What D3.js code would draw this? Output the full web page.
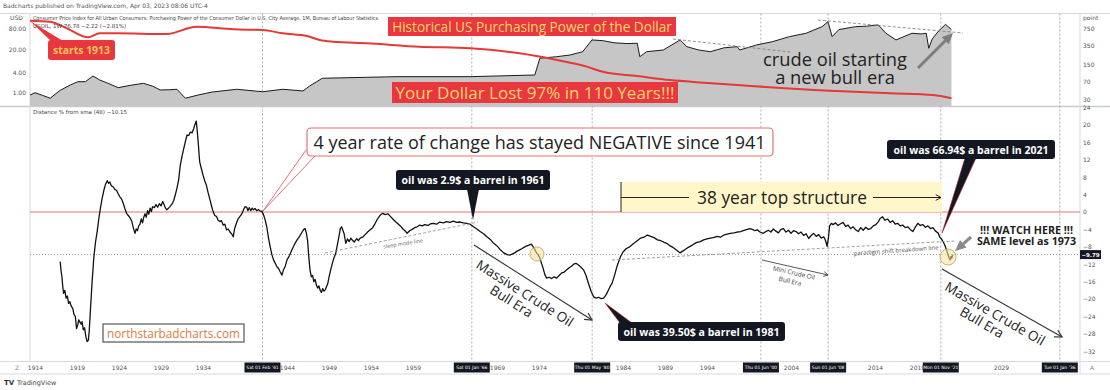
<!DOCTYPE html>
<html><head><meta charset="utf-8">
<script src="https://cdn.jsdelivr.net/npm/d3@7"></script>
<style>
html,body{margin:0;padding:0;background:#fff;}
svg{display:block;}
text{font-family:"Open Sans",sans-serif;}
.ax text{font-family:"DejaVu Sans",sans-serif;font-size:6px;fill:#555;}
</style></head><body><svg id="c" width="1110" height="390"></svg>
<script>
// ---------------- DATA ----------------
const oilYears = [1913.4,1914.0,1914.9,1915.8,1917.0,1918.2,1919.1,1920.0,1920.9,1921.7,1922.8,1923.9,1925.4,1926.9,1928.0,1928.9,1930.0,1930.9,1931.9,1933.5,1935.1,1938.0,1941.1,1943.5,1945.9,1946.7,1948.2,1953.5,1957.1,1965.8,1973.5,1974.1,1976.1,1977.7,1979.2,1980.3,1981.6,1983.0,1984.5,1985.7,1986.0,1986.8,1988.8,1990.8,1991.6,1993.0,1994.4,1996.0,1997.6,1997.9,1999.9,2001.8,2003.8,2005.8,2007.7,2008.4,2008.9,2009.7,2011.7,2013.0,2014.4,2015.3,2016.5,2018.4,2019.5,2020.1,2020.4,2020.8,2021.6,2022.4,2023.1];
const oilValues = [0.87,1.02,0.85,0.70,1.2,1.73,2.17,2.17,3.2,2.44,1.9,1.44,1.7,1.94,1.6,1.23,1.25,1.29,0.70,0.88,1.07,1.29,1.09,1.29,1.15,1.62,2.74,2.93,3.06,3.06,3.43,10.8,12.0,13.5,16.9,37.8,36.0,31,29.5,30.1,12.0,16.9,19.0,37.8,23.9,19,16.9,22,23.9,19.0,26.8,33.6,47.4,59.8,94,132,47.4,77,94,97,105.6,59.8,37.8,59.8,57,59.8,21.4,40,71,110,76.8];

const ppYears = [1913.4,1915.8,1917.8,1920.3,1921.7,1923.7,1929.7,1933.2,1937.6,1941.1,1943.5,1946.4,1947.9,1949.5,1953.5,1959.8,1965.8,1971.7,1975.7,1979.7,1981.6,1985.7,1989.6,1993.6,1997.6,2008.6,2015.8,2020.9,2023.1];
const ppValues = [1091,1042,773,514,617,617,598,832,739,716,617,545,455,421,392,336,313,249,190,136,108,89,74,65.8,59,45.7,40.6,37.6,32.4];

const oscYears = [1917.0,1917.1,1917.2,1917.3,1917.4,1917.55,1917.7,1917.85,1918.0,1918.15,1918.3,1918.5,1918.65,1918.8,1918.95,1919.1,1919.2,1919.35,1919.5,1919.6,1919.75,1919.9,1920.05,1920.2,1920.35,1920.45,1920.6,1920.8,1921.0,1921.2,1921.4,1921.6,1921.8,1922.0,1922.2,1922.4,1922.6,1922.75,1922.9,1923.1,1923.3,1923.5,1923.7,1923.9,1924.1,1924.3,1924.5,1924.7,1924.9,1925.1,1925.3,1925.5,1925.7,1925.9,1926.05,1926.2,1926.35,1926.5,1926.65,1926.8,1926.95,1927.1,1927.25,1927.4,1927.55,1927.7,1927.85,1928.0,1928.2,1928.4,1928.6,1928.8,1929.0,1929.2,1929.35,1929.5,1929.7,1929.9,1930.1,1930.3,1930.5,1930.7,1930.9,1931.1,1931.3,1931.5,1931.7,1931.9,1932.1,1932.3,1932.5,1932.7,1932.9,1933.05,1933.2,1933.3,1933.45,1933.6,1933.8,1934.0,1934.2,1934.4,1934.6,1934.8,1935.0,1935.2,1935.4,1935.6,1935.8,1936.0,1936.2,1936.4,1936.6,1936.8,1937.0,1937.2,1937.4,1937.6,1937.75,1937.9,1938.05,1938.2,1938.4,1938.6,1938.8,1939.0,1939.2,1939.35,1939.5,1939.7,1939.85,1940.0,1940.2,1940.4,1940.6,1940.8,1941.0,1941.2,1941.4,1941.6,1941.8,1942.0,1942.2,1942.4,1942.6,1942.8,1943.0,1943.2,1943.4,1943.6,1943.8,1944.0,1944.3,1944.6,1944.9,1945.2,1945.5,1945.8,1946.0,1946.15,1946.3,1946.45,1946.6,1946.75,1946.9,1947.05,1947.2,1947.35,1947.5,1947.65,1947.8,1947.95,1948.1,1948.25,1948.4,1948.55,1948.7,1948.85,1949.0,1949.2,1949.4,1949.6,1949.8,1950.0,1950.2,1950.35,1950.5,1950.65,1950.8,1951.0,1951.2,1951.4,1951.6,1951.8,1952.0,1952.3,1952.5,1952.7,1953.0,1953.3,1953.6,1953.9,1954.2,1954.5,1954.8,1955.1,1955.4,1955.7,1956.0,1956.3,1956.6,1956.9,1957.2,1957.5,1957.8,1958.1,1958.3,1958.6,1958.9,1959.2,1959.5,1959.8,1960.1,1960.4,1960.8,1961.1,1961.4,1961.8,1962.2,1962.6,1963.0,1963.4,1963.8,1964.2,1964.6,1965.0,1965.4,1965.8,1966.2,1966.6,1967.0,1967.4,1967.8,1968.2,1968.6,1969.0,1969.4,1969.8,1970.2,1970.5,1970.8,1971.1,1971.4,1971.7,1972.0,1972.4,1972.8,1973.1,1973.3,1973.5,1973.7,1973.9,1974.1,1974.3,1974.5,1974.7,1974.9,1975.2,1975.5,1975.8,1976.1,1976.4,1976.7,1977.0,1977.3,1977.6,1977.9,1978.2,1978.4,1978.7,1979.0,1979.3,1979.6,1979.9,1980.2,1980.5,1980.8,1981.1,1981.4,1981.7,1982.0,1982.3,1982.5,1982.7,1983.0,1983.3,1983.7,1984.0,1984.4,1984.8,1985.3,1985.7,1986.1,1986.5,1986.9,1987.3,1987.7,1988.1,1988.5,1988.9,1989.2,1989.6,1990.0,1990.4,1990.8,1991.1,1991.4,1991.7,1992.0,1992.4,1992.8,1993.2,1993.6,1994.0,1994.4,1994.8,1995.2,1995.6,1996.0,1996.4,1996.8,1997.2,1997.6,1998.0,1998.4,1998.8,1999.1,1999.4,1999.7,2000.0,2000.3,2000.7,2001.0,2001.3,2001.6,2001.9,2002.2,2002.5,2002.8,2003.1,2003.4,2003.7,2004.0,2004.3,2004.6,2004.9,2005.2,2005.5,2005.8,2006.1,2006.4,2006.7,2007.0,2007.3,2007.6,2007.9,2008.1,2008.3,2008.45,2008.6,2008.8,2009.0,2009.3,2009.6,2009.9,2010.2,2010.5,2010.8,2011.1,2011.4,2011.7,2012.0,2012.3,2012.6,2012.9,2013.2,2013.5,2013.8,2014.1,2014.4,2014.6,2014.9,2015.2,2015.5,2015.8,2016.1,2016.4,2016.7,2017.0,2017.3,2017.6,2017.9,2018.2,2018.5,2018.8,2019.1,2019.4,2019.7,2020.0,2020.3,2020.6,2020.9,2021.2,2021.5,2021.7,2021.9,2022.1,2022.3,2022.5,2022.65,2022.8,2022.95,2023.05,2023.15,2023.25];
const oscValues = [-11.4,-13.5,-14.8,-17.0,-18.7,-18.0,-19.8,-19.3,-21.0,-20.6,-21.6,-22.2,-23.6,-24.0,-26.8,-25.9,-24.8,-25.3,-25.8,-25.2,-27.1,-26.6,-28.6,-29.8,-29.5,-27.5,-22.5,-16.0,-10.5,-7.0,-4.5,-1.5,1.0,3.2,5.0,6.4,7.2,6.6,6.9,6.0,5.8,5.2,5.0,4.2,3.5,3.0,2.0,0.8,-0.3,-0.8,-1.3,-2.0,-3.6,-4.9,-3.9,-4.3,-3.2,-2.8,-1.6,-2.5,-1.2,-0.4,-1.2,0.3,-0.5,0.9,0.1,1.2,1.0,1.7,1.1,1.9,1.4,2.4,1.8,1.0,0.5,0.9,1.3,1.8,2.6,3.9,5.5,7.4,10.8,12.8,14.5,16.2,17.7,17.6,18.4,18.2,19.2,20.2,20.9,19.0,15.5,11.6,10.0,8.5,7.2,6.2,4.5,3.0,1.5,0.1,-0.8,-1.0,-1.9,-2.2,-2.0,-3.0,-2.8,-4.1,-3.9,-4.6,-5.0,-5.7,-4.0,-3.0,-2.2,-1.5,-1.0,-0.5,0.4,1.2,1.1,0.3,1.0,0.3,0.9,0.5,0.8,0.3,0.6,0.2,0.2,-0.6,-1.8,-3.5,-6.0,-8.0,-9.8,-11.0,-11.8,-12.6,-13.0,-13.8,-14.5,-13.2,-12.4,-11.0,-10.0,-8.6,-7.4,-6.4,-5.6,-4.6,-4.0,-3.8,-4.8,-6.5,-10.5,-13.5,-14.9,-14.6,-16.0,-15.5,-16.8,-17.5,-17.0,-18.0,-18.5,-17.6,-18.2,-17.9,-17.2,-16.5,-15.0,-13.3,-11.8,-10.5,-9.5,-7.5,-5.5,-3.8,-3.4,-4.2,-5.0,-7.2,-6.2,-6.8,-6.0,-6.5,-6.9,-6.1,-6.6,-6.0,-5.8,-5.2,-4.6,-4.1,-3.6,-2.6,-1.5,-0.7,-0.3,-0.6,-0.4,-1.0,-1.6,-2.2,-2.7,-3.2,-3.9,-4.4,-4.9,-4.3,-4.0,-3.6,-3.4,-3.0,-3.2,-2.9,-3.1,-2.7,-2.6,-2.8,-2.3,-2.5,-2.2,-2.4,-2.1,-2.4,-2.3,-2.5,-2.6,-2.8,-3.4,-3.9,-4.5,-5.0,-5.7,-6.3,-7.2,-7.8,-8.7,-9.4,-9.8,-9.9,-9.7,-9.4,-9.0,-8.7,-8.4,-7.9,-7.6,-7.4,-8.0,-8.6,-9.4,-9.8,-10.6,-11.8,-13.0,-14.4,-15.2,-15.0,-15.3,-14.9,-15.2,-14.6,-14.0,-13.8,-13.3,-12.8,-12.4,-11.9,-11.8,-12.2,-12.7,-13.3,-14.6,-16.5,-18.2,-19.5,-19.8,-19.6,-19.9,-19.8,-19.0,-17.8,-17.0,-16.4,-14.5,-12.4,-10.3,-9.2,-8.4,-8.0,-7.2,-6.6,-6.0,-5.8,-5.3,-5.6,-5.9,-6.4,-6.6,-7.0,-7.2,-7.8,-8.2,-8.8,-9.4,-9.0,-8.6,-8.2,-7.9,-7.4,-7.0,-6.8,-6.4,-6.2,-6.0,-5.9,-5.6,-5.8,-5.3,-5.1,-4.9,-4.8,-4.6,-4.5,-4.2,-4.0,-3.8,-4.0,-4.3,-4.1,-4.6,-4.9,-4.5,-4.2,-4.6,-3.9,-4.4,-4.8,-4.0,-3.8,-4.6,-4.2,-4.9,-4.3,-4.5,-5.0,-4.6,-5.4,-5.0,-6.1,-5.4,-4.9,-5.6,-5.2,-6.0,-5.7,-6.5,-7.9,-6.0,-3.2,-2.6,-2.9,-2.5,-3.1,-2.7,-2.4,-3.3,-3.0,-3.8,-3.4,-4.1,-4.5,-3.6,-4.2,-3.5,-4.0,-3.8,-3.2,-2.9,-2.2,-1.5,-1.1,-1.9,-1.6,-2.4,-2.0,-2.8,-2.6,-3.2,-3.0,-3.6,-3.4,-4.0,-4.5,-3.5,-2.6,-3.1,-2.9,-3.5,-3.2,-3.8,-3.6,-4.4,-4.8,-5.7,-6.2,-6.8,-7.6,-8.6,-9.5,-10.4,-11.0,-10.2,-10.6,-9.79];

// year ticks that stay visible (the others sit under the date flags)
const yearTicks = [1914,1919,1924,1929,1934,1944,1949,1954,1959,1969,1974,1984,1989,1994,2004,2014,2019,2029];
const markerYears = [1941.08,1966.0,1980.33,2000.42,2008.42,2021.83,2036.0];
const markerLabels = ["Sat 01 Feb '41","Sat 01 Jan '66","Thu 01 May '80","Thu 01 Jun '00","Sun 01 Jun '08","Mon 01 Nov '21","Tue 01 Jan '36"];
const usdTicks = [1,4,20,80];
const pointTicks = [30,70,150,350,750];
const oscTicks = [24,20,16,12,8,4,0,-4,-8,-12,-16,-20,-24,-28,-32];
const lastOsc = -9.79;

// ---------------- LAYOUT ----------------
const svg = d3.select("#c");
const L = 30, R = 1080, T1 = 13.5, B1 = 106.5, T2 = 107, B2 = 361.5, B3 = 374;
const x = d3.scaleLinear().domain([1914, 2036]).range([35, 1059.8]);
const yUsd = d3.scaleLog().domain([1, 80]).range([93, 29]);
const yPt = d3.scaleLog().domain([30, 750]).range([100, 29]);
const yOsc = d3.scaleLinear().domain([-32, 24]).range([351.2, 107.6]);

svg.append("rect").attr("width",1110).attr("height",390).attr("fill","#fff");
const defs = svg.append("defs");
defs.append("clipPath").attr("id","cp1").append("rect").attr("x",L).attr("y",T1).attr("width",R-L).attr("height",B1-T1);
defs.append("clipPath").attr("id","cp2").append("rect").attr("x",L).attr("y",T2).attr("width",R-L).attr("height",B2-T2);

const fr = svg.append("g").attr("stroke","#d6d9e0").attr("stroke-width",1).attr("fill","none");
fr.append("line").attr("x1",0).attr("x2",1110).attr("y1",T1).attr("y2",T1);
fr.append("line").attr("x1",0).attr("x2",1110).attr("y1",B1).attr("y2",B1).attr("stroke","#c8cbd2").attr("stroke-width",1.5);
fr.append("line").attr("x1",0).attr("x2",1110).attr("y1",B2).attr("y2",B2);
fr.append("line").attr("x1",0).attr("x2",1110).attr("y1",B3).attr("y2",B3);
fr.append("line").attr("x1",L).attr("x2",L).attr("y1",T1).attr("y2",B2);
fr.append("line").attr("x1",R).attr("x2",R).attr("y1",T1).attr("y2",B3);

svg.append("text").attr("x",3).attr("y",8).attr("font-size",6).attr("fill","#555")
  .style("font-family","DejaVu Sans").text("Badcharts published on TradingView.com, Apr 03, 2023 08:06 UTC-4");

svg.append("g").selectAll("line").data(markerYears).join("line")
  .attr("x1",d=>x(d)).attr("x2",d=>x(d)).attr("y1",T1).attr("y2",B2)
  .attr("stroke","#9a9a9a").attr("stroke-width",0.8).attr("stroke-dasharray","2,2");

// ---------------- TOP PANE ----------------
const g1 = svg.append("g").attr("clip-path","url(#cp1)");
const oil = oilYears.map((d,i)=>[d,oilValues[i]]);
g1.append("path").datum(oil)
  .attr("d", d3.area().x(d=>x(d[0])).y0(B1).y1(d=>yUsd(d[1])))
  .attr("fill","#c6c6c6");
g1.append("path").datum(oil)
  .attr("d", d3.line().x(d=>x(d[0])).y(d=>yUsd(d[1])))
  .attr("fill","none").attr("stroke","#1a1a1a").attr("stroke-width",1);
const pp = ppYears.map((d,i)=>[d,ppValues[i]]);
g1.append("path").datum(pp)
  .attr("d", d3.line().curve(d3.curveMonotoneX).x(d=>x(d[0])).y(d=>yPt(d[1])))
  .attr("fill","none").attr("stroke","#e53935").attr("stroke-width",2);
g1.append("line").attr("x1",673).attr("y1",39).attr("x2",790).attr("y2",52)
  .attr("stroke","#777").attr("stroke-width",0.8).attr("stroke-dasharray","3,2");
g1.append("line").attr("x1",818).attr("y1",20).attr("x2",963).attr("y2",33)
  .attr("stroke","#777").attr("stroke-width",0.8).attr("stroke-dasharray","3,2");

svg.append("text").attr("x",33).attr("y",19.5).attr("font-size",5.5).attr("fill","#444")
  .style("font-family","DejaVu Sans")
  .text("Consumer Price Index for All Urban Consumers: Purchasing Power of the Consumer Dollar in U.S. City Average, 1M, Bureau of Labour Statistics")
  .attr("textLength",345).attr("lengthAdjust","spacingAndGlyphs");
svg.append("text").attr("x",33).attr("y",27.5).attr("font-size",5.5).attr("fill","#444")
  .style("font-family","DejaVu Sans").text("USOIL, 1W  76.78  −2.22 (−2.81%)");

const axUsd = svg.append("g").attr("class","ax").attr("transform",`translate(${L-2},0)`)
  .call(d3.axisLeft(yUsd).tickValues(usdTicks).tickFormat(d3.format(".2f")).tickSize(0).tickPadding(2));
axUsd.select(".domain").remove();
svg.append("text").attr("x",10).attr("y",20).attr("font-size",6).attr("fill","#555").style("font-family","DejaVu Sans").text("USD");
const axPt = svg.append("g").attr("class","ax").attr("transform",`translate(${R+1},0)`)
  .call(d3.axisRight(yPt).tickValues(pointTicks).tickFormat(d3.format("d")).tickSize(0).tickPadding(2));
axPt.select(".domain").remove();
svg.append("text").attr("x",1083).attr("y",20).attr("font-size",6).attr("fill","#555").style("font-family","DejaVu Sans").text("point");

// ---------------- LOWER PANE ----------------
const g2 = svg.append("g").attr("clip-path","url(#cp2)");
g2.append("line").attr("x1",L).attr("x2",R).attr("y1",yOsc(0)).attr("y2",yOsc(0))
  .attr("stroke","#e57373").attr("stroke-width",1);
g2.append("line").attr("x1",L).attr("x2",R).attr("y1",yOsc(lastOsc)).attr("y2",yOsc(lastOsc))
  .attr("stroke","#888").attr("stroke-width",0.8).attr("stroke-dasharray","1,2");
g2.append("rect").attr("x",621).attr("y",182).attr("width",321).attr("height",yOsc(0)-182).attr("fill","#fff6c9");

const osc = oscYears.map((d,i)=>[d,oscValues[i]]);
g2.append("path").datum(osc)
  .attr("d", d3.line().x(d=>x(d[0])).y(d=>yOsc(d[1])))
  .attr("fill","none").attr("stroke","#111").attr("stroke-width",1.3).attr("stroke-linejoin","round");

g2.append("line").attr("x1",325).attr("y1",253).attr("x2",478).attr("y2",222)
  .attr("stroke","#888").attr("stroke-width",0.8).attr("stroke-dasharray","3,2");
g2.append("line").attr("x1",612).attr("y1",260).attr("x2",955).attr("y2",241)
  .attr("stroke","#888").attr("stroke-width",0.8).attr("stroke-dasharray","3,2");

svg.append("text").attr("x",33).attr("y",114).attr("font-size",5.5).attr("fill","#444")
  .style("font-family","DejaVu Sans").text("Distance % from sma (48)  −10.15");

const axO = svg.append("g").attr("class","ax").attr("transform",`translate(${R+1},0)`)
  .call(d3.axisRight(yOsc).tickValues(oscTicks).tickFormat(d3.format("d")).tickSize(0).tickPadding(2));
axO.select(".domain").remove();
svg.append("rect").attr("x",1080).attr("y",yOsc(lastOsc)-4.5).attr("width",21).attr("height",9).attr("fill","#131722");
svg.append("text").attr("x",1090.5).attr("y",yOsc(lastOsc)+2).attr("text-anchor","middle").attr("font-size",5.5)
  .attr("fill","#fff").style("font-family","DejaVu Sans").attr("font-weight","bold").text("−9.79");

// time axis
const axX = svg.append("g").attr("class","ax").attr("transform",`translate(0,${B2})`)
  .call(d3.axisBottom(x).tickValues(yearTicks).tickFormat(d3.format("d")).tickSize(0).tickPadding(4));
axX.select(".domain").remove();
const mk = svg.append("g").selectAll("g").data(markerYears).join("g")
  .attr("transform",d=>`translate(${x(d)},${B2+6})`);
mk.append("rect").attr("x",-18).attr("y",-5).attr("width",36).attr("height",10).attr("fill","#131722");
mk.append("text").attr("text-anchor","middle").attr("dy","1.8").attr("font-size",4.5).attr("fill","#fff")
  .style("font-family","DejaVu Sans").text((d,i)=>markerLabels[i]);
svg.append("text").attr("x",17).attr("y",370).attr("font-size",6).attr("fill","#888").attr("text-anchor","middle").style("font-family","DejaVu Sans").text("Z");
svg.append("text").attr("x",1092).attr("y",370).attr("font-size",6).attr("fill","#888").attr("text-anchor","middle").style("font-family","DejaVu Sans").text("A");
svg.append("text").attr("x",4).attr("y",385).attr("font-size",7).attr("font-weight","bold").attr("fill","#333").style("font-family","DejaVu Sans").text("TV");
svg.append("text").attr("x",17).attr("y",385).attr("font-size",6.5).attr("fill","#444").style("font-family","DejaVu Sans").text("TradingView");

// ---------------- ANNOTATIONS ----------------
const A = svg.append("g");
function txt(cx, cy, str, fs, fill, width, opts={}) {
  const t = A.append("text").attr("x",cx).attr("y",cy).attr("text-anchor","middle")
    .attr("dominant-baseline","central").attr("font-size",fs).attr("fill",fill)
    .attr("font-weight",opts.bold?"bold":"normal").text(str);
  if (opts.rot !== undefined) t.attr("x",0).attr("y",0).attr("transform",`translate(${cx},${cy}) rotate(${opts.rot})`);
  if (width) { const len = t.node().getComputedTextLength(); t.attr("font-size", fs*width/len); }
  return t;
}
function txt2(cx, cy, lines, fs, fill, width, gap, opts={}) {
  const t = A.append("text").attr("text-anchor","middle").attr("font-size",fs).attr("fill",fill)
    .attr("font-weight",opts.bold?"bold":"normal")
    .attr("transform",`translate(${cx},${cy}) rotate(${opts.rot||0})`);
  const s1 = t.append("tspan").attr("x",0).attr("y",0).text(lines[0]);
  const len = s1.node().getComputedTextLength();
  t.attr("font-size", fs*width/len);
  t.append("tspan").attr("x", opts.dx2||0).attr("y", gap).text(lines[1]);
  return t;
}
function arrowLine(x1,y1,x2,y2,color,w,head) {
  A.append("line").attr("x1",x1).attr("y1",y1).attr("x2",x2).attr("y2",y2).attr("stroke",color).attr("stroke-width",w);
  const a = Math.atan2(y2-y1,x2-x1), h=head;
  A.append("path").attr("d",`M${x2-h*Math.cos(a-0.5)},${y2-h*Math.sin(a-0.5)}L${x2},${y2}L${x2-h*Math.cos(a+0.5)},${y2-h*Math.sin(a+0.5)}`)
    .attr("fill","none").attr("stroke",color).attr("stroke-width",w);
}
function fatArrow(x1,y1,x2,y2,color) {
  const a = Math.atan2(y2-y1,x2-x1), h=11;
  const bx = x2-h*Math.cos(a), by = y2-h*Math.sin(a);
  A.append("line").attr("x1",x1).attr("y1",y1).attr("x2",bx).attr("y2",by).attr("stroke",color).attr("stroke-width",3);
  A.append("path").attr("d",`M${x2},${y2}L${bx+5*Math.sin(a)},${by-5*Math.cos(a)}L${bx-5*Math.sin(a)},${by+5*Math.cos(a)}Z`).attr("fill",color);
}
const RED = "#e8373f", GOLD = "#fdd66e", DARK = "#131722";

A.append("rect").attr("x",388).attr("y",17).attr("width",288).attr("height",19).attr("fill",RED);
txt(532, 26.5, "Historical US Purchasing Power of the Dollar", 15, GOLD, 280);
A.append("rect").attr("x",392).attr("y",82).attr("width",286).attr("height",21).attr("fill",RED);
txt(535, 92.5, "Your Dollar Lost 97% in 110 Years!!!", 17, GOLD, 279);

A.append("path").attr("d","M30,21L51,41L63,41Z").attr("fill",RED);
A.append("rect").attr("x",48).attr("y",40).attr("width",67).attr("height",20).attr("rx",3).attr("fill",RED);
txt(81.5, 50, "starts 1913", 12, "#fbc45a", 57, {bold:true});

txt2(835, 66, ["crude oil starting","a new bull era"], 18, "#222", 144, 17.5);
fatArrow(918, 68, 953, 33, "#7d7d7d");

A.append("path").attr("d","M306,150L263,211L315,156").attr("fill","#fff").attr("stroke","#e57373").attr("stroke-width",1);
A.append("rect").attr("x",307).attr("y",128).attr("width",466).attr("height",28).attr("rx",4)
  .attr("fill","#fff").attr("stroke","#e57373").attr("stroke-width",1.2);
txt(539.5, 142, "4 year rate of change has stayed NEGATIVE since 1941", 18, "#222", 452);

A.append("path").attr("d","M467,189L479,189L473,220Z").attr("fill",DARK);
A.append("rect").attr("x",396).attr("y",170).attr("width",154).attr("height",20).attr("rx",3).attr("fill",DARK);
txt(473, 180, "oil was 2.9$ a barrel in 1961", 11, "#fff", 143, {bold:true});

A.append("line").attr("x1",621).attr("x2",621).attr("y1",182).attr("y2",yOsc(0)).attr("stroke","#222").attr("stroke-width",1);
A.append("line").attr("x1",621).attr("x2",689).attr("y1",197.5).attr("y2",197.5).attr("stroke","#222").attr("stroke-width",1);
arrowLine(873,197.5,941,197.5,"#222",1,6);
txt(782, 196.5, "38 year top structure", 19, "#222", 170);

A.append("path").attr("d","M965,158L976,158L942,233Z").attr("fill",DARK).attr("stroke","#b71c1c").attr("stroke-width",0.6);
A.append("rect").attr("x",887).attr("y",140).attr("width",168).attr("height",19).attr("rx",3).attr("fill",DARK);
txt(971, 149.5, "oil was 66.94$ a barrel in 2021", 11, "#fff", 155, {bold:true});

txt2(1026.5, 234, ["!!! WATCH HERE !!!","SAME level as 1973"], 11, "#222", 93, 11, {bold:true});
fatArrow(971, 237, 955, 251, "#8a8a8a");

A.append("circle").attr("cx",537).attr("cy",254).attr("r",7).attr("fill","rgba(250,225,150,0.55)").attr("stroke","#c9b27a").attr("stroke-width",1);
A.append("circle").attr("cx",948).attr("cy",257).attr("r",8).attr("fill","rgba(250,225,150,0.55)").attr("stroke","#c9b27a").attr("stroke-width",1);

A.append("path").attr("d","M605,303L620,323L632,323Z").attr("fill",DARK).attr("stroke","#b71c1c").attr("stroke-width",0.6);
A.append("rect").attr("x",618).attr("y",322).attr("width",167).attr("height",19).attr("rx",3).attr("fill",DARK);
txt(701.5, 331.5, "oil was 39.50$ a barrel in 1981", 11, "#fff", 156, {bold:true});

A.append("rect").attr("x",103).attr("y",324).attr("width",141).attr("height",18).attr("fill","#fff").attr("stroke","#777").attr("stroke-width",1.5);
txt(173.5, 333, "northstarbadcharts.com", 14, "#e07a3a", 133);

arrowLine(474,245,592,320,"#333",1.2,8);
txt2(522.3, 297.2, ["Massive Crude Oil","Bull Era"], 16, "#222", 112, 14, {rot:32.5, dx2:-7});
arrowLine(942,269,1062,337,"#333",1.2,8);
txt2(992.5, 317.8, ["Massive Crude Oil","Bull Era"], 16, "#222", 113, 14, {rot:30, dx2:-7});
arrowLine(762,260,828,275,"#444",0.9,5);
txt2(793.5, 275, ["Mini Crude Oil","Bull Era"], 7, "#444", 43, 9, {rot:13, dx2:-2});
txt(403, 243.5, "sleep mode line", 5.5, "#666", 40, {rot:-9});
txt(896, 250.5, "paradigm shift breakdown line", 6.5, "#555", 85, {rot:-4});
</script></body></html>
